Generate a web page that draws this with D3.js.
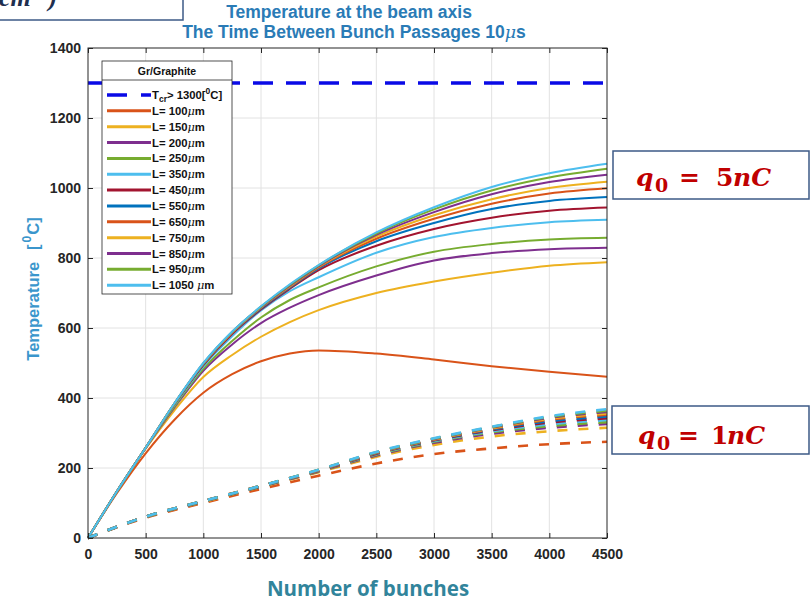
<!DOCTYPE html>
<html><head><meta charset="utf-8">
<script src="https://cdn.jsdelivr.net/npm/d3@7"></script>
<style>body{margin:0;background:#fff} svg{display:block}</style>
</head><body>
<svg id="c" width="810" height="601"></svg>
<script>
// ---- data ----
const xTicks = [0,500,1000,1500,2000,2500,3000,3500,4000,4500];
const yTicks = [0,200,400,600,800,1000,1200,1400];
const tcrValue = 1300;
const thicknesses = [100,150,200,250,350,450,550,650,750,850,950,1050];
const seriesColors = ["#D95319","#EDB120","#7E2F8E","#77AC30","#4DBEEE","#A2142F","#0072BD","#D95319","#EDB120","#7E2F8E","#77AC30","#4DBEEE"];

// q0 = 5 nC (solid lines)
const bunches5nC = [0,250,500,750,1000,1250,1500,1750,2000,2500,3000,3500,4000,4500];
const T5_L100  = [0,128,242,338,415,468,505,527,536,527,510,491,475,461];
const T5_L150  = [0,132,255,365,460,523,575,617,651,700,733,758,778,788];
const T5_L200  = [0,132,257,373,478,553,614,658,694,750,793,814,825,829];
const T5_L250  = [0,132,258,376,483,563,630,680,716,776,818,840,853,858];
const T5_L350  = [0,133,258,380,490,576,650,705,745,815,860,886,902,909];
const T5_L450  = [0,133,258,382,494,583,653,712,765,835,883,915,935,944];
const T5_L550  = [0,133,258,383,496,586,656,715,770,848,900,940,963,974];
const T5_L650  = [0,133,258,384,497,587,658,717,773,855,912,955,984,999];
const T5_L750  = [0,133,258,384,498,588,659,719,775,861,922,968,1000,1018];
const T5_L850  = [0,133,258,385,499,589,660,721,777,866,931,982,1017,1038];
const T5_L950  = [0,133,258,385,499,589,661,723,779,870,939,993,1030,1055];
const T5_L1050 = [0,133,258,385,500,590,662,725,780,873,945,1003,1042,1069];

// q0 = 1 nC (dashed lines)
const bunches1nC = [0,500,1000,1500,2000,2500,3000,3500,4000,4500];
const T1_L100  = [0,58,100,140,178,213,240,256,268,275];
const T1_L150  = [0,60,103,146,188,232,266,290,305,315];
const T1_L200  = [0,60,104,147,190,236,272,298,315,326];
const T1_L250  = [0,60,104,147,191,238,275,302,320,331];
const T1_L350  = [0,61,105,148,192,240,277,305,325,337];
const T1_L450  = [0,61,105,148,192,241,279,308,330,342];
const T1_L550  = [0,61,105,148,193,242,280,310,334,347];
const T1_L650  = [0,61,106,149,193,243,281,312,338,352];
const T1_L750  = [0,61,106,149,194,244,282,314,341,356];
const T1_L850  = [0,61,106,149,194,244,283,316,344,360];
const T1_L950  = [0,61,106,149,195,245,284,317,346,364];
const T1_L1050 = [0,61,106,149,195,246,285,318,348,368];

const solidSeries = [T5_L100,T5_L150,T5_L200,T5_L250,T5_L350,T5_L450,T5_L550,T5_L650,T5_L750,T5_L850,T5_L950,T5_L1050];
const dashedSeries = [T1_L100,T1_L150,T1_L200,T1_L250,T1_L350,T1_L450,T1_L550,T1_L650,T1_L750,T1_L850,T1_L950,T1_L1050];

// ---- chart ----
const svg = d3.select("#c");
const x = d3.scaleLinear().domain([0,4500]).range([88,607]);
const y = d3.scaleLinear().domain([0,1400]).range([538,48]);
const AX = "#262626";
const SANS = "Liberation Sans, Arial, sans-serif";

// grid
const grid = svg.append("g");
grid.selectAll("line.gx").data(xTicks.slice(1,-1)).join("line")
  .attr("x1",d=>x(d)).attr("x2",d=>x(d)).attr("y1",y(0)).attr("y2",y(1400))
  .attr("stroke","#e2e2e2").attr("stroke-width",1);
grid.selectAll("line.gy").data(yTicks.slice(1,-1)).join("line")
  .attr("y1",d=>y(d)).attr("y2",d=>y(d)).attr("x1",x(0)).attr("x2",x(4500))
  .attr("stroke","#e2e2e2").attr("stroke-width",1);

// Tcr line
const lineG = svg.append("g");
lineG.append("path")
  .attr("d", d3.line().x(d=>x(d[0])).y(d=>y(d[1]))([[0,tcrValue],[4500,tcrValue]]))
  .attr("fill","none").attr("stroke","#0a0ae6").attr("stroke-width",3.5)
  .attr("stroke-dasharray","20,13");

const curve = d3.line().curve(d3.curveMonotoneX);
solidSeries.forEach((s,i)=>{
  lineG.append("path")
    .attr("d", curve.x((d,j)=>x(bunches5nC[j])).y(d=>y(d))(s))
    .attr("fill","none").attr("stroke",seriesColors[i]).attr("stroke-width",2);
});
dashedSeries.forEach((s,i)=>{
  lineG.append("path")
    .attr("d", curve.x((d,j)=>x(bunches1nC[j])).y(d=>y(d))(s))
    .attr("fill","none").attr("stroke",seriesColors[i]).attr("stroke-width",2.6)
    .attr("stroke-dasharray","10,11");
});

// axes
function styleAxis(g){
  g.select(".domain").remove();
  g.selectAll(".tick line").attr("stroke",AX);
  g.selectAll(".tick text").attr("fill",AX).attr("font-family",SANS)
    .attr("font-weight","bold").attr("font-size","14px");
}
const fmt = d3.format("d");
svg.append("g").attr("transform","translate(0,538)")
  .call(d3.axisBottom(x).tickValues(xTicks).tickFormat(fmt).tickSize(-5).tickPadding(11)).call(styleAxis);
svg.append("g").attr("transform","translate(0,48)")
  .call(d3.axisTop(x).tickValues(xTicks).tickSize(-5).tickFormat("")).call(styleAxis);
svg.append("g").attr("transform","translate(88,0)")
  .call(d3.axisLeft(y).tickValues(yTicks).tickFormat(fmt).tickSize(-5).tickPadding(7)).call(styleAxis);
svg.append("g").attr("transform","translate(607,0)")
  .call(d3.axisRight(y).tickValues(yTicks).tickSize(-5).tickFormat("")).call(styleAxis);
svg.append("rect").attr("x",88).attr("y",48).attr("width",519).attr("height",490)
  .attr("fill","none").attr("stroke",AX).attr("stroke-width",1);

// titles
const title = svg.append("g").attr("font-family",SANS)
  .attr("font-weight","bold").attr("fill","#2a7bb6").attr("text-anchor","middle").attr("font-size","17.5px");
title.append("text").attr("x",349).attr("y",18).text("Temperature at the beam axis");
const t2 = title.append("text").attr("x",354).attr("y",38);
t2.append("tspan").text("The Time Between Bunch Passages 10");
t2.append("tspan").attr("font-family","DejaVu Serif, serif").attr("font-style","italic").attr("font-weight","normal").text("μ");
t2.append("tspan").text("s");

// y label
const yl = svg.append("text").attr("transform","translate(39,289) rotate(-90)")
  .attr("text-anchor","middle").attr("font-family",SANS)
  .attr("font-weight","bold").attr("font-size","16.5px").attr("fill","#3a96cc");
yl.append("tspan").text("Temperature");
yl.append("tspan").attr("dx",12).text("[");
yl.append("tspan").attr("dy",-8).attr("dx",2).attr("font-size","12px").text("0");
yl.append("tspan").attr("dy",8).attr("dx",1).text("C]");

// x label
svg.append("text").attr("x",368).attr("y",596).attr("text-anchor","middle")
  .attr("font-family","Open Sans, sans-serif").attr("font-weight","bold").attr("font-size","20.5px")
  .attr("fill","#31849B").text("Number of bunches");

// legend
const lg = svg.append("g").attr("font-family",SANS).attr("font-weight","bold");
lg.append("rect").attr("x",102).attr("y",61).attr("width",130).attr("height",233)
  .attr("fill","#fff").attr("stroke",AX).attr("stroke-width",0.8);
lg.append("line").attr("x1",102).attr("x2",232).attr("y1",80).attr("y2",80).attr("stroke",AX).attr("stroke-width",0.8);
lg.append("text").attr("x",167).attr("y",74.5).attr("text-anchor","middle").attr("font-size","10.5px").attr("fill","#111").text("Gr/Graphite");
const rowY = i => 95 + i*15.85;
lg.append("line").attr("x1",107).attr("x2",151).attr("y1",rowY(0)).attr("y2",rowY(0))
  .attr("stroke","#0a0ae6").attr("stroke-width",3.5).attr("stroke-dasharray","20,14");
const tt = lg.append("text").attr("x",152).attr("y",rowY(0)+3.8).attr("font-size","11.3px").attr("fill","#111");
tt.append("tspan").text("T");
tt.append("tspan").attr("dy",3.5).attr("font-size","8.5px").text("cr");
tt.append("tspan").attr("dy",-3.5).text("> 1300[");
tt.append("tspan").attr("dy",-4.5).attr("font-size","8.5px").text("0");
tt.append("tspan").attr("dy",4.5).text("C]");
thicknesses.forEach((L,i)=>{
  const yy = rowY(i+1);
  lg.append("line").attr("x1",107).attr("x2",151).attr("y1",yy).attr("y2",yy)
    .attr("stroke",seriesColors[i]).attr("stroke-width",3);
  const t = lg.append("text").attr("x",152).attr("y",yy+4).attr("font-size","11.3px").attr("fill","#111");
  t.append("tspan").text("L= " + L + (L>=1000 ? " " : ""));
  t.append("tspan").attr("font-family","DejaVu Serif, serif").attr("font-style","italic").attr("font-weight","normal").text("μ");
  t.append("tspan").text("m");
});

// annotation boxes
const boxStroke = "#3d5a86";
const SERIF = "DejaVu Serif, Liberation Serif, serif";
function qBox(bx,by,bw,bh,base,xs,num){
  svg.append("rect").attr("x",bx).attr("y",by).attr("width",bw).attr("height",bh)
    .attr("fill","#fff").attr("stroke",boxStroke).attr("stroke-width",1.5);
  const g = svg.append("g").attr("fill","#c00000").attr("font-family",SERIF).attr("font-weight","bold");
  g.append("text").attr("x",xs[0]).attr("y",base).attr("font-size","25px").attr("font-style","italic").text("q");
  g.append("text").attr("x",xs[1]).attr("y",base+6).attr("font-size","19px").text("0");
  g.append("text").attr("x",xs[2]).attr("y",base).attr("font-size","25px").text("=");
  g.append("text").attr("x",xs[3]).attr("y",base).attr("font-size","25px").text(num);
  g.append("text").attr("x",xs[4]).attr("y",base).attr("font-size","25px").attr("font-style","italic").text("nC");
}
qBox(613,151,196,48,186,[636,655,679,716,733],"5");
qBox(612,406,197,48,444,[638,657,678,711,727],"1");

// top-left cropped box
svg.append("rect").attr("x",-2).attr("y",-10).attr("width",185).attr("height",30)
  .attr("fill","#fff").attr("stroke",boxStroke).attr("stroke-width",1.5);
const tl = svg.append("text").attr("x",-1).attr("y",6).attr("fill","#1f2f4f")
  .attr("font-family","Liberation Serif, DejaVu Serif, serif").attr("font-weight","bold")
  .attr("font-style","italic").attr("font-size","26px");
tl.append("tspan").text("cm");
tl.append("tspan").attr("dy",-12).attr("font-size","16px").text("−2");
tl.append("tspan").attr("dy",12).text(")");
</script>
</body></html>
